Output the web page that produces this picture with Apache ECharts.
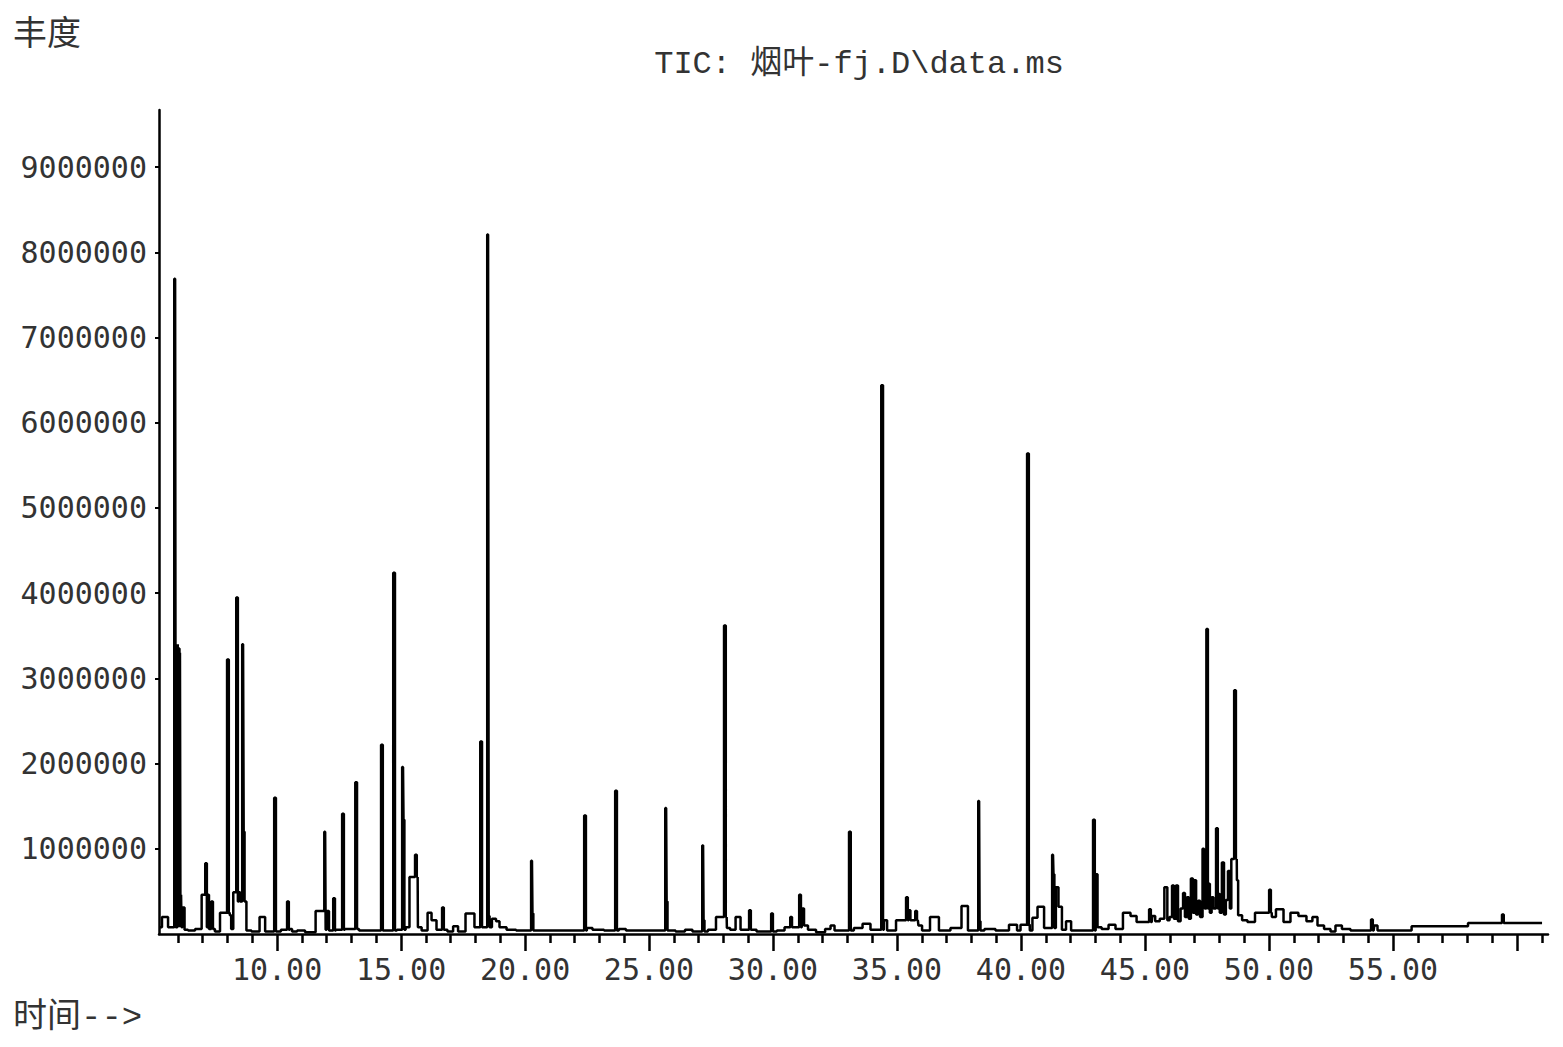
<!DOCTYPE html>
<html><head><meta charset="utf-8">
<script src="https://cdn.jsdelivr.net/npm/echarts@6/dist/echarts.min.js"></script>
<style>html,body{margin:0;padding:0;background:#fff}#c{width:1563px;height:1047px}</style>
</head><body><div id="c"></div>
<script>
// ---- text ----
const titleText = 'TIC: 烟叶-fj.D\\data.ms';
const yAxisName = '丰度';
const xAxisName = '时间-->';

// ---- axes ----
const xMin = 5.24, xMax = 61.25;
const yMin = 0, yMax = 9670000;
const xLabelValues = [10, 15, 20, 25, 30, 35, 40, 45, 50, 55];
const xMajorTicks = [10, 15, 20, 25, 30, 35, 40, 45, 50, 55, 60];
const xMinorTicks = [6, 7, 8, 9, 11, 12, 13, 14, 16, 17, 18, 19, 21, 22, 23, 24, 26, 27, 28, 29, 31, 32, 33, 34,
  36, 37, 38, 39, 41, 42, 43, 44, 46, 47, 48, 49, 51, 52, 53, 54, 56, 57, 58, 59, 61];
const yTickValues = [1000000, 2000000, 3000000, 4000000, 5000000, 6000000, 7000000, 8000000, 9000000];

// ---- sharp peaks (retention time, abundance) ----
const peakRT = [5.89, 6.01, 6.05, 6.09, 7.14, 7.38, 8.02, 8.39, 8.63, 9.92, 10.44, 11.94, 12.30, 12.66, 13.19,
  14.23, 14.72, 15.08, 15.60, 16.69, 18.23, 18.51, 20.28, 22.42, 23.67, 25.69, 27.18, 28.06, 29.07,
  29.96, 30.73, 31.09, 33.10, 34.40, 35.40, 35.77, 38.31, 40.28, 41.29, 42.94, 45.20,
  47.50, 47.90, 48.63, 50.04, 54.15, 59.43];
const peakAbund = [7690000, 3400000, 3350000, 3300000, 830000, 380000, 3220000, 3950000, 3400000, 1600000, 380000,
  1200000, 420000, 1410000, 1780000, 2220000, 4240000, 1960000, 930000, 310000, 2260000, 8210000,
  860000, 1390000, 1680000, 1480000, 1040000, 3620000, 280000, 240000, 200000, 460000, 1200000,
  6440000, 430000, 270000, 1560000, 5640000, 930000, 1340000, 290000,
  3580000, 1240000, 2860000, 520000, 170000, 230000];

// ---- baseline / broad trace (retention time, abundance) ----
const baseRT = [5.24, 5.48, 5.73, 6.14, 6.21, 6.33, 6.49, 6.90, 7.02, 7.20, 7.30, 7.54, 7.86, 8.10, 8.20,
  8.27, 8.45, 8.68, 8.83, 9.11, 9.48, 9.56, 10.32, 10.52, 10.69, 10.93, 11.33, 11.78, 11.98, 12.18,
  12.38, 12.74, 13.35, 14.15, 14.88, 15.12, 15.22, 15.46, 15.53, 15.69, 15.97, 16.17, 16.29, 16.57,
  16.98, 17.22, 17.38, 17.82, 18.10, 18.56, 18.75, 18.91, 19.03, 19.48, 19.80, 20.32, 20.52, 21.41,
  22.50, 22.94, 23.43, 23.83, 24.31, 25.04, 25.73, 25.89, 26.25, 26.65, 26.85, 27.22, 27.50, 27.90,
  28.15, 28.39, 28.59, 28.79, 29.19, 29.48, 30.28, 30.65, 31.17, 31.33, 31.49, 31.98, 32.22, 32.42,
  32.54, 33.35, 33.87, 33.99, 34.48, 34.72, 35.20, 35.48, 35.60, 35.89, 36.13, 36.53, 36.85, 37.46,
  37.74, 37.98, 38.35, 38.67, 39.27, 39.76, 39.92, 40.04, 40.36, 40.56, 40.77, 41.09, 41.33, 41.45,
  41.57, 41.73, 41.90, 42.14, 43.02, 43.15, 43.35, 43.71, 43.91, 44.31, 44.52, 44.80, 45.32, 45.50,
  45.69, 45.87, 45.93, 46.05, 46.13, 46.20, 46.29, 46.37, 46.50, 46.57, 46.65, 46.73, 46.80, 46.90,
  46.96, 47.02, 47.10, 47.18, 47.26, 47.38, 47.45, 47.58, 47.65, 47.72, 47.80, 47.98, 48.05, 48.15,
  48.22, 48.30, 48.39, 48.45, 48.51, 48.71, 48.80, 49.03, 49.23, 49.64, 49.88, 50.12, 50.44, 50.73,
  51.00, 51.37, 51.65, 51.85, 52.06, 52.38, 52.58, 52.78, 53.10, 53.47, 54.27, 54.48, 57.02, 59.03, 61.01];
const baseAbund = [80000, 200000, 80000, 460000, 310000, 50000, 40000, 60000, 460000, 80000, 60000, 30000,
  250000, 220000, 60000, 490000, 380000, 1200000, 40000, 30000, 200000, 30000, 50000, 60000, 30000,
  40000, 20000, 270000, 50000, 40000, 50000, 60000, 40000, 40000, 50000, 1340000, 80000, 670000,
  670000, 80000, 40000, 250000, 160000, 50000, 30000, 90000, 30000, 240000, 80000, 210000, 180000,
  150000, 80000, 50000, 40000, 240000, 40000, 40000, 70000, 50000, 40000, 60000, 40000, 40000,
  380000, 40000, 30000, 50000, 30000, 160000, 50000, 200000, 70000, 50000, 200000, 50000, 50000,
  30000, 40000, 80000, 300000, 100000, 50000, 20000, 60000, 100000, 40000, 70000, 120000, 50000,
  160000, 40000, 160000, 280000, 160000, 100000, 40000, 200000, 40000, 70000, 330000, 40000, 150000,
  60000, 40000, 110000, 40000, 110000, 40000, 190000, 320000, 70000, 700000, 550000, 320000, 50000,
  150000, 40000, 700000, 80000, 60000, 110000, 60000, 250000, 210000, 140000, 210000, 150000,
  180000, 550000, 160000, 200000, 570000, 180000, 570000, 150000, 300000, 480000, 200000, 430000, 180000, 650000,
  250000, 630000, 230000, 390000, 200000, 1000000, 300000, 590000, 250000, 430000, 300000, 470000, 250000, 840000,
  230000, 400000, 740000, 300000, 880000, 630000, 220000, 160000, 140000, 250000, 250000, 200000, 290000, 140000,
  250000, 210000, 150000, 200000, 100000, 60000, 30000, 100000, 60000, 40000, 100000, 40000, 90000, 130000, 130000];

// ---- build trace from the arrays ----
const HALF = 0.07;
const trace = baseRT.map((t, i) => [t, baseAbund[i]]);
peakRT.forEach((t, i) => {
  let b = baseAbund[0];
  for (let j = 0; j < baseRT.length; j++) { if (baseRT[j] <= t) b = baseAbund[j]; }
  trace.push([t - HALF, b], [t, peakAbund[i]], [t + HALF, b]);
});
trace.sort((a, b) => a[0] - b[0]);

const TXT = '#333';
const chart = echarts.init(document.getElementById('c'), null, { renderer: 'svg' });
chart.setOption({
  animation: false,
  backgroundColor: '#fff',
  grid: { left: 159, right: 15, top: 110, bottom: 113, containLabel: false },
  xAxis: [{
    type: 'value', min: xMin, max: xMax, position: 'bottom',
    axisLine: { show: true, onZero: false, lineStyle: { color: '#000', width: 2.5 } },
    axisTick: { show: true, customValues: xMajorTicks, length: 17, lineStyle: { color: '#000', width: 2.5 } },
    axisLabel: { show: true, customValues: xLabelValues, margin: 20, color: TXT,
      fontFamily: 'DejaVu Sans Mono', fontSize: 30,
      formatter: v => Number(v).toFixed(2) },
    splitLine: { show: false }
  }, {
    type: 'value', min: xMin, max: xMax, position: 'bottom',
    axisLine: { show: false },
    axisTick: { show: true, customValues: xMinorTicks, length: 9, lineStyle: { color: '#000', width: 2.5 } },
    axisLabel: { show: false },
    splitLine: { show: false }
  }],
  yAxis: {
    type: 'value', min: yMin, max: yMax,
    axisLine: { show: true, lineStyle: { color: '#000', width: 2.5 } },
    axisTick: { show: true, customValues: yTickValues, length: 4, lineStyle: { color: '#000', width: 2 } },
    axisLabel: { show: true, customValues: yTickValues, margin: 12, color: TXT,
      fontFamily: 'DejaVu Sans Mono', fontSize: 30, formatter: v => String(v) },
    splitLine: { show: false }
  },
  graphic: [
    { type: 'text', x: 13, y: 30, style: { text: yAxisName, font: '34px "Noto Sans CJK SC"', fill: TXT, textAlign: 'left', textVerticalAlign: 'middle' } },
    { type: 'text', x: 13, y: 1018, style: { text: xAxisName, font: '34px "Liberation Mono", "Noto Sans CJK SC"', fill: TXT, textAlign: 'left', textVerticalAlign: 'middle' } },
    { type: 'text', x: 859, y: 64, style: { text: titleText, font: '32px "Liberation Mono", "Noto Sans CJK SC"', fill: TXT, textAlign: 'center', textVerticalAlign: 'middle' } }
  ],
  series: [{
    type: 'line', data: trace, xAxisIndex: 0, step: 'middle',
    showSymbol: false, symbol: 'none',
    lineStyle: { color: '#000', width: 2.5 },
    silent: true
  }]
});
</script></body></html>
